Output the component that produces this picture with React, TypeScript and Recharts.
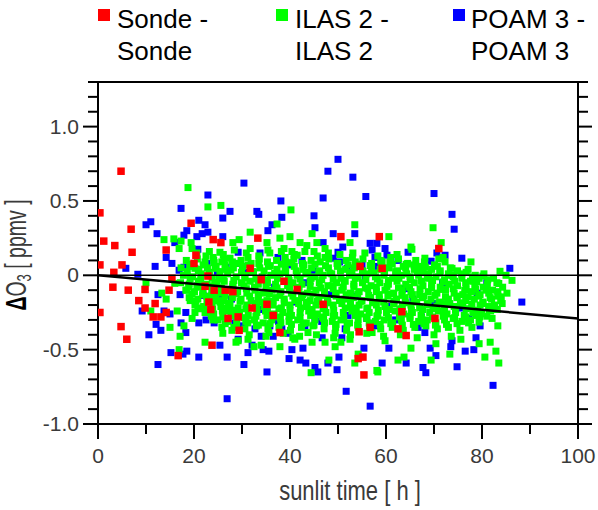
import {
  ScatterChart,
  Scatter,
  XAxis,
  YAxis,
} from "recharts";

type Pt = [number, number];

// sunlit time [h], delta O3 [ppmv]
const SONDE: Pt[] = [
  [4.8, 0.7], [0.4, 0.42], [1.2, 0.23], [3.5, 0.2], [6.9, 0.31], [7.1, 0.155], [5.0, 0.07], [3.3, 0.02],
  [0.4, 0.07], [19.4, 0.35], [14.2, 0.17], [24.0, 0.24], [25.6, 0.22], [20.0, 0.08], [20.4, 0.135],
  [22.9, -0.005], [15.4, -0.02], [3.1, -0.08], [6.3, -0.1], [9.8, -0.095], [8.5, -0.17], [11.9, -0.19],
  [9.8, -0.22], [11.5, -0.28], [13.1, -0.28], [14.2, -0.25], [14.8, -0.1], [0.4, -0.25], [4.8, -0.345],
  [6.0, -0.43], [16.7, -0.54], [23.75, -0.47], [22.3, -0.074], [24.2, -0.1], [23.1, -0.18], [23.5, -0.23],
  [27.1, -0.29], [26.5, -0.1], [28.1, -0.11], [33.3, 0.25], [50.6, 0.26], [54.6, 0.06], [31.7, 0.047],
  [58.6, 0.26], [34.0, -0.03], [38.75, -0.04], [41.5, -0.095], [32.1, -0.22], [35.2, -0.195], [29.2, -0.28],
  [36.5, -0.27], [46.9, -0.195], [29.4, -0.37], [37.9, -0.385], [54.4, -0.38], [56.7, -0.35], [55.2, -0.55],
  [54.2, -0.56], [55.4, -0.67], [71.0, 0.18], [59.2, 0.047], [63.3, -0.245], [70.2, -0.29], [62.5, -0.36],
  [64.2, -0.405],
];

const ILAS_OUTER: Pt[] = [
  [18.75, 0.59], [22.9, 0.46], [25.6, 0.47], [13.75, 0.24], [15.8, 0.245], [17.3, 0.23], [16.9, 0.18],
  [19.4, 0.22], [19.6, 0.18], [22.5, 0.13], [24.0, 0.12], [25.4, 0.155], [28.1, 0.22], [27.5, 0.115],
  [25.8, 0.09], [24.4, 0.047], [20.2, 0.047], [10.0, -0.05], [13.3, -0.12], [14.2, -0.16], [11.0, -0.24],
  [16.5, -0.24], [15.0, -0.35], [17.1, -0.41], [16.9, -0.5], [17.9, -0.34], [19.6, -0.29], [20.2, -0.25],
  [19.2, -0.17], [20.8, -0.22], [18.5, -0.1], [22.3, -0.45], [24.0, -0.3], [25.8, -0.35], [26.0, -0.39],
  [27.9, -0.37], [28.75, -0.45], [23.75, -0.135], [25.4, -0.18], [27.5, -0.19], [27.1, -0.24], [28.5, -0.26],
  [16.0, -0.054], [20.6, -0.07], [24.8, -0.05], [40.2, 0.44], [53.5, 0.34], [31.7, 0.29], [37.3, 0.345],
  [44.6, 0.28], [29.4, 0.24], [35.2, 0.22], [37.9, 0.25], [40.0, 0.26], [42.1, 0.22], [43.5, 0.2],
  [45.6, 0.22], [47.3, 0.18], [52.5, 0.22], [53.1, 0.15], [31.7, 0.18], [31.25, 0.12], [35.4, 0.17],
  [38.75, 0.18], [40.4, 0.16], [45.0, 0.16], [39.0, 0.12], [41.5, 0.135], [47.3, 0.12], [29.2, -0.44],
  [31.25, -0.43], [32.5, -0.48], [34.0, -0.47], [37.9, -0.48], [41.0, -0.43], [44.6, -0.45], [47.3, -0.45],
  [49.4, -0.48], [50.6, -0.45], [52.5, -0.43], [48.1, -0.57], [53.5, -0.59], [44.4, -0.655], [35.6, -0.385],
  [40.6, -0.42], [43.75, -0.385], [49.4, -0.39], [54.2, -0.53], [58.1, -0.64], [53.1, -0.22], [57.1, -0.385],
  [60.6, 0.26], [69.8, 0.32], [71.5, 0.22], [65.2, 0.19], [65.4, 0.175], [62.3, 0.14], [68.1, 0.115],
  [71.0, 0.11], [71.9, 0.12], [77.7, 0.09], [64.2, 0.074], [66.9, 0.06], [73.75, 0.047], [77.1, 0.04],
  [83.75, 0.027], [59.2, 0.09], [81.7, -0.45], [79.4, -0.46], [80.6, -0.55], [82.9, -0.51], [83.5, -0.59],
  [69.4, -0.57], [73.3, -0.53], [62.5, -0.57], [63.75, -0.55], [58.3, -0.65], [65.2, -0.49], [70.4, -0.46],
  [75.6, -0.43], [82.1, -0.29], [83.3, -0.34], [84.2, -0.19], [86.25, -0.034], [59.8, -0.44], [85.0, 0.0],
];

const ILAS_CORE: Pt[] = [
  [20.6, 0.15], [23.2, 0.16], [26.1, 0.14], [28.4, 0.17], [30.9, 0.15], [33.5, 0.13], [35.8, 0.15], [38.2, 0.16],
  [40.9, 0.14], [43.1, 0.16], [45.7, 0.13], [48.0, 0.15], [50.4, 0.14], [53.0, 0.12], [55.6, 0.15], [58.3, 0.13],
  [61.0, 0.12],
  [18.4, 0.1], [20.7, 0.11], [22.3, 0.09], [24.1, 0.1], [26.2, 0.11], [28.0, 0.09], [29.8, 0.1], [31.9, 0.08],
  [33.6, 0.11], [35.3, 0.09], [37.2, 0.1], [39.1, 0.09], [40.8, 0.11], [42.6, 0.08], [44.4, 0.1], [46.3, 0.09],
  [48.1, 0.11], [50.0, 0.08], [51.7, 0.1], [53.6, 0.09], [55.2, 0.11], [57.0, 0.08], [58.9, 0.1], [60.8, 0.09],
  [62.6, 0.11], [64.5, 0.08], [66.2, 0.1], [68.0, 0.09], [70.1, 0.07], [72.3, 0.09],
  [17.3, 0.05], [19.1, 0.06], [21.0, 0.04], [22.8, 0.05], [24.6, 0.06], [26.5, 0.04], [28.2, 0.05], [30.1, 0.06],
  [31.8, 0.03], [33.7, 0.05], [35.5, 0.06], [37.3, 0.04], [39.0, 0.05], [40.9, 0.06], [42.7, 0.04], [44.5, 0.05],
  [46.2, 0.03], [48.0, 0.05], [49.9, 0.06], [51.6, 0.04], [53.4, 0.05], [55.1, 0.03], [57.0, 0.05], [58.8, 0.04],
  [60.6, 0.05], [62.4, 0.03], [64.1, 0.05], [65.9, 0.04], [67.7, 0.02], [69.5, 0.04], [71.3, 0.03], [73.0, 0.01],
  [74.9, 0.03], [76.7, 0.02], [78.6, 0.0], [80.4, 0.01],
  [17.8, 0.0], [19.7, -0.01], [21.5, 0.01], [23.3, 0.0], [25.2, -0.02], [27.0, 0.01], [28.8, -0.01], [30.6, 0.0],
  [32.4, 0.02], [34.2, -0.01], [36.0, 0.0], [37.9, 0.01], [39.7, -0.02], [41.5, 0.0], [43.3, 0.01], [45.1, -0.01],
  [46.9, 0.0], [48.7, 0.01], [50.6, -0.02], [52.4, 0.0], [54.2, -0.01], [56.0, 0.01], [57.8, -0.01], [59.6, 0.0],
  [61.4, -0.02], [63.2, 0.0], [65.0, -0.01], [66.8, 0.0], [68.6, -0.02], [70.4, -0.01], [72.2, -0.03], [74.0, -0.01],
  [75.8, -0.02], [77.6, -0.04], [79.4, -0.02], [81.2, -0.03], [83.1, -0.05],
  [17.2, -0.05], [19.0, -0.06], [20.9, -0.04], [22.6, -0.06], [24.4, -0.05], [26.3, -0.04], [28.1, -0.06],
  [29.9, -0.05], [31.7, -0.04], [33.4, -0.06], [35.3, -0.05], [37.0, -0.06], [38.8, -0.04], [40.6, -0.05],
  [42.5, -0.06], [44.2, -0.04], [46.1, -0.05], [47.9, -0.07], [49.7, -0.05], [51.5, -0.04], [53.3, -0.06],
  [55.1, -0.05], [56.9, -0.07], [58.7, -0.05], [60.5, -0.06], [62.3, -0.04], [64.1, -0.06], [65.9, -0.05],
  [67.7, -0.07], [69.5, -0.06], [71.3, -0.08], [73.1, -0.06], [74.9, -0.07], [76.7, -0.09], [78.5, -0.07],
  [80.3, -0.08], [82.2, -0.1], [84.3, -0.08],
  [18.3, -0.1], [20.1, -0.11], [21.9, -0.09], [23.7, -0.1], [25.5, -0.12], [27.3, -0.1], [29.1, -0.11],
  [30.9, -0.09], [32.7, -0.1], [34.5, -0.12], [36.3, -0.1], [38.1, -0.11], [39.9, -0.09], [41.7, -0.1],
  [43.6, -0.12], [45.4, -0.1], [47.2, -0.11], [49.0, -0.09], [50.8, -0.1], [52.6, -0.12], [54.4, -0.11],
  [56.2, -0.09], [58.0, -0.11], [59.8, -0.1], [61.6, -0.12], [63.4, -0.1], [65.2, -0.11], [67.0, -0.13],
  [68.8, -0.11], [70.6, -0.12], [72.4, -0.1], [74.2, -0.12], [76.0, -0.13], [77.8, -0.11], [79.6, -0.13],
  [81.4, -0.12], [83.3, -0.14], [85.2, -0.12],
  [19.0, -0.15], [20.8, -0.16], [22.6, -0.14], [24.4, -0.15], [26.2, -0.17], [28.0, -0.15], [29.8, -0.16],
  [31.6, -0.14], [33.4, -0.15], [35.2, -0.17], [37.0, -0.15], [38.8, -0.16], [40.6, -0.14], [42.4, -0.15],
  [44.2, -0.17], [46.0, -0.15], [47.8, -0.16], [49.6, -0.14], [51.4, -0.16], [53.2, -0.15], [55.0, -0.17],
  [56.8, -0.15], [58.6, -0.16], [60.4, -0.14], [62.2, -0.16], [64.0, -0.15], [65.8, -0.17], [67.6, -0.15],
  [69.4, -0.16], [71.2, -0.18], [73.0, -0.16], [74.8, -0.15], [76.6, -0.17], [78.4, -0.16], [80.2, -0.18],
  [82.0, -0.16], [83.9, -0.17],
  [20.2, -0.2], [22.0, -0.21], [23.8, -0.19], [25.6, -0.21], [27.4, -0.2], [29.2, -0.22], [31.0, -0.2],
  [32.8, -0.19], [34.6, -0.21], [36.4, -0.2], [38.2, -0.22], [40.0, -0.2], [41.8, -0.19], [43.6, -0.21],
  [45.4, -0.2], [47.2, -0.22], [49.0, -0.2], [50.8, -0.19], [52.6, -0.21], [54.4, -0.2], [56.2, -0.22],
  [58.0, -0.2], [59.8, -0.21], [61.6, -0.19], [63.4, -0.21], [65.2, -0.2], [67.0, -0.22], [68.8, -0.2],
  [70.6, -0.21], [72.4, -0.19], [74.2, -0.21], [76.0, -0.2], [77.8, -0.22], [79.6, -0.2], [81.4, -0.21],
  [83.2, -0.23],
  [22.3, -0.25], [24.1, -0.26], [25.9, -0.24], [27.7, -0.26], [29.5, -0.25], [31.3, -0.27], [33.1, -0.25],
  [34.9, -0.24], [36.7, -0.26], [38.5, -0.25], [40.3, -0.27], [42.1, -0.25], [43.9, -0.24], [45.7, -0.26],
  [47.5, -0.25], [49.3, -0.27], [51.1, -0.25], [52.9, -0.24], [54.7, -0.26], [56.5, -0.25], [58.3, -0.27],
  [60.1, -0.25], [61.9, -0.24], [63.7, -0.26], [65.5, -0.25], [67.3, -0.27], [69.1, -0.25], [70.9, -0.24],
  [72.7, -0.26], [74.5, -0.25], [76.3, -0.27], [78.1, -0.25], [79.9, -0.26], [81.8, -0.24],
  [25.0, -0.3], [27.0, -0.31], [28.9, -0.29], [30.8, -0.31], [32.6, -0.3], [34.4, -0.32], [36.2, -0.3],
  [38.0, -0.29], [39.8, -0.31], [41.6, -0.3], [43.4, -0.32], [45.2, -0.3], [47.0, -0.29], [48.8, -0.31],
  [50.6, -0.3], [52.4, -0.32], [54.2, -0.3], [56.0, -0.29], [57.8, -0.31], [59.6, -0.3], [61.4, -0.32],
  [63.2, -0.3], [65.0, -0.29], [66.8, -0.31], [68.6, -0.3], [70.4, -0.32], [72.2, -0.3], [74.0, -0.29],
  [75.8, -0.31], [77.6, -0.3], [79.5, -0.28],
  [28.3, -0.35], [30.6, -0.36], [33.0, -0.34], [35.4, -0.36], [37.7, -0.35], [40.1, -0.37], [42.4, -0.35],
  [44.8, -0.34], [47.1, -0.36], [49.5, -0.35], [51.8, -0.37], [54.2, -0.35], [56.6, -0.34], [58.9, -0.36],
  [61.3, -0.35], [63.6, -0.37], [66.0, -0.35], [68.3, -0.34], [70.7, -0.36], [73.0, -0.35], [75.4, -0.37],
  [77.9, -0.35],
  [31.5, -0.4], [35.0, -0.41], [38.6, -0.39], [42.0, -0.41], [45.5, -0.4], [49.1, -0.42], [52.6, -0.4],
  [56.0, -0.39], [59.5, -0.41], [63.0, -0.4], [66.5, -0.42], [70.0, -0.4], [73.6, -0.41],
];

const ILAS_FILL: Pt[] = [
  [19.4, 0.075], [21.9, 0.07], [24.2, 0.085], [26.5, 0.07], [29.0, 0.08], [31.3, 0.07], [33.5, 0.08], [35.9, 0.065],
  [38.2, 0.075], [40.4, 0.085], [42.9, 0.07], [45.2, 0.075], [47.4, 0.065], [49.8, 0.08], [52.1, 0.07], [54.3, 0.075],
  [56.7, 0.065], [59.0, 0.07], [61.3, 0.075], [63.6, 0.06], [65.8, 0.07], [68.2, 0.055], [70.7, 0.06], [73.4, 0.05],
  [18.6, 0.025], [20.9, 0.03], [23.1, 0.02], [25.4, 0.025], [27.7, 0.035], [29.9, 0.02], [32.2, 0.025], [34.6, 0.03],
  [36.8, 0.015], [39.1, 0.025], [41.3, 0.03], [43.7, 0.02], [46.0, 0.025], [48.3, 0.015], [50.5, 0.03], [52.9, 0.02],
  [55.2, 0.025], [57.4, 0.015], [59.7, 0.02], [62.0, 0.025], [64.3, 0.01], [66.5, 0.02], [68.9, 0.01], [71.2, 0.015],
  [73.5, 0.0], [75.8, 0.01], [78.0, -0.01], [80.2, -0.005], [82.4, -0.02],
  [19.2, -0.025], [21.4, -0.03], [23.8, -0.02], [26.1, -0.025], [28.3, -0.035], [30.6, -0.02], [32.9, -0.025],
  [35.2, -0.03], [37.4, -0.02], [39.8, -0.035], [42.1, -0.025], [44.4, -0.02], [46.6, -0.03], [49.0, -0.025],
  [51.3, -0.035], [53.6, -0.02], [55.8, -0.03], [58.2, -0.025], [60.5, -0.035], [62.7, -0.02], [65.1, -0.03],
  [67.4, -0.04], [69.7, -0.035], [71.9, -0.045], [74.3, -0.04], [76.6, -0.05], [78.9, -0.045], [81.1, -0.06],
  [83.5, -0.055],
  [18.9, -0.075], [21.2, -0.08], [23.5, -0.07], [25.7, -0.085], [28.1, -0.075], [30.4, -0.07], [32.6, -0.08],
  [35.0, -0.075], [37.3, -0.085], [39.5, -0.07], [41.9, -0.08], [44.2, -0.075], [46.4, -0.085], [48.8, -0.07],
  [51.1, -0.08], [53.3, -0.075], [55.7, -0.085], [58.0, -0.08], [60.2, -0.075], [62.6, -0.085], [64.9, -0.08],
  [67.1, -0.09], [69.5, -0.085], [71.8, -0.095], [74.0, -0.09], [76.4, -0.1], [78.7, -0.095], [80.9, -0.1],
  [83.3, -0.11],
  [19.6, -0.125], [21.8, -0.13], [24.1, -0.12], [26.5, -0.135], [28.8, -0.125], [31.0, -0.12], [33.4, -0.13],
  [35.7, -0.125], [37.9, -0.135], [40.3, -0.12], [42.6, -0.13], [44.8, -0.125], [47.2, -0.135], [49.5, -0.12],
  [51.7, -0.13], [54.1, -0.125], [56.4, -0.135], [58.6, -0.13], [61.0, -0.125], [63.3, -0.135], [65.5, -0.13],
  [67.9, -0.14], [70.2, -0.135], [72.4, -0.145], [74.8, -0.14], [77.1, -0.145], [79.3, -0.14], [81.7, -0.15],
  [84.0, -0.145],
  [20.4, -0.175], [22.7, -0.18], [25.0, -0.17], [27.2, -0.185], [29.6, -0.175], [31.9, -0.17], [34.1, -0.18],
  [36.5, -0.175], [38.8, -0.185], [41.0, -0.17], [43.4, -0.18], [45.7, -0.175], [47.9, -0.185], [50.3, -0.17],
  [52.6, -0.18], [54.8, -0.175], [57.2, -0.185], [59.5, -0.18], [61.7, -0.175], [64.1, -0.185], [66.4, -0.18],
  [68.6, -0.19], [71.0, -0.185], [73.3, -0.19], [75.5, -0.185], [77.9, -0.195], [80.2, -0.19], [82.6, -0.2],
  [21.5, -0.225], [23.9, -0.23], [26.2, -0.22], [28.4, -0.235], [30.8, -0.225], [33.1, -0.22], [35.3, -0.23],
  [37.7, -0.225], [40.0, -0.235], [42.2, -0.22], [44.6, -0.23], [46.9, -0.225], [49.1, -0.235], [51.5, -0.22],
  [53.8, -0.23], [56.0, -0.225], [58.4, -0.235], [60.7, -0.23], [62.9, -0.225], [65.3, -0.235], [67.6, -0.23],
  [69.8, -0.225], [72.2, -0.235], [74.5, -0.23], [76.7, -0.225], [79.1, -0.235], [81.5, -0.23],
  [23.6, -0.275], [26.0, -0.28], [28.3, -0.27], [30.5, -0.285], [32.9, -0.275], [35.2, -0.27], [37.4, -0.28],
  [39.8, -0.275], [42.1, -0.285], [44.3, -0.27], [46.7, -0.28], [49.0, -0.275], [51.2, -0.285], [53.6, -0.27],
  [55.9, -0.28], [58.1, -0.275], [60.5, -0.285], [62.8, -0.28], [65.0, -0.275], [67.4, -0.285], [69.7, -0.28],
  [71.9, -0.275], [74.3, -0.285], [76.6, -0.28], [78.8, -0.27], [81.0, -0.275],
  [26.5, -0.325], [28.9, -0.33], [31.2, -0.32], [33.4, -0.335], [35.8, -0.325], [38.1, -0.32], [40.3, -0.33],
  [42.7, -0.325], [45.0, -0.335], [47.2, -0.32], [49.6, -0.33], [51.9, -0.325], [54.1, -0.335], [56.5, -0.32],
  [58.8, -0.33], [61.0, -0.325], [63.4, -0.335], [65.7, -0.33], [67.9, -0.325], [70.3, -0.335], [72.6, -0.33],
  [74.8, -0.325], [77.2, -0.32], [79.4, -0.315],
];

const POAM_OUTER: Pt[] = [
  [22.9, 0.54], [17.3, 0.45], [27.5, 0.43], [26.0, 0.385], [21.0, 0.37], [22.3, 0.34], [11.0, 0.36], [10.0, 0.34],
  [12.3, 0.28], [18.5, 0.3], [17.9, 0.27], [20.6, 0.26], [21.7, 0.28], [22.9, 0.29], [26.0, 0.26], [16.0, 0.22],
  [20.8, 0.175], [14.2, 0.12], [15.4, 0.08], [11.9, 0.06], [5.8, 0.047], [8.3, 0.007], [17.9, 0.054],
  [16.9, 0.034], [22.7, 0.08], [26.7, 0.054], [29.2, 0.155], [9.2, -0.24], [12.1, -0.33], [13.1, -0.37],
  [10.6, -0.4], [12.5, -0.6], [15.2, -0.52], [17.7, -0.53], [18.5, -0.51], [21.0, -0.55], [25.4, -0.47],
  [26.9, -0.55], [26.9, -0.83], [17.1, -0.13], [12.5, -0.13], [13.75, -0.24], [15.0, -0.26], [18.3, -0.25],
  [17.3, -0.32], [21.0, -0.32], [22.5, -0.3], [24.2, -0.32], [18.3, -0.385], [21.9, -0.135], [25.8, -0.15],
  [28.5, -0.32], [50.0, 0.78], [47.9, 0.7], [53.1, 0.66], [30.4, 0.62], [46.9, 0.52], [55.8, 0.53], [38.1, 0.5],
  [33.1, 0.43], [33.5, 0.41], [38.3, 0.39], [45.0, 0.4], [36.25, 0.34], [35.4, 0.3], [45.2, 0.32], [49.0, 0.28],
  [53.5, 0.28], [46.9, 0.22], [51.0, 0.19], [50.0, 0.155], [56.7, 0.215], [57.1, 0.17], [57.7, 0.12],
  [33.75, 0.15], [37.5, 0.12], [49.0, 0.115], [51.9, 0.047], [55.0, 0.068], [42.5, 0.1], [30.4, -0.6],
  [35.2, -0.65], [31.25, -0.52], [35.6, -0.51], [34.4, -0.5], [39.8, -0.56], [42.1, -0.57], [43.3, -0.59],
  [45.2, -0.62], [45.8, -0.65], [47.9, -0.59], [49.8, -0.635], [50.2, -0.55], [51.7, -0.78], [56.7, -0.88],
  [55.4, -0.49], [42.7, -0.49], [40.4, -0.5], [29.2, -0.43], [32.1, -0.47], [34.0, -0.41], [36.5, -0.41],
  [39.6, -0.39], [35.8, -0.34], [38.3, -0.36], [43.1, -0.34], [46.7, -0.42], [50.8, -0.42], [51.5, -0.36],
  [45.2, -0.29], [56.0, -0.29], [57.7, -0.34], [32.7, -0.36], [30.0, -0.34], [70.0, 0.55], [73.75, 0.41],
  [74.2, 0.31], [58.1, 0.215], [59.8, 0.18], [60.2, 0.135], [64.6, 0.155], [69.4, 0.095], [70.6, 0.15],
  [72.3, 0.135], [75.8, 0.115], [85.8, 0.047], [62.5, 0.1], [60.6, -0.49], [59.2, -0.59], [64.2, -0.59],
  [67.7, -0.62], [68.3, -0.655], [70.4, -0.54], [69.2, -0.49], [73.5, -0.48], [76.5, -0.51], [78.3, -0.5],
  [78.75, -0.42], [74.8, -0.615], [82.3, -0.74], [88.3, -0.18], [66.7, -0.35], [68.1, -0.385], [73.75, -0.44],
  [79.6, -0.34],
];

const POAM_CORE: Pt[] = [
  [31.0, 0.02], [36.8, -0.08], [41.2, -0.18], [44.9, 0.03], [48.4, -0.13], [52.1, -0.27], [55.7, -0.02],
  [60.2, -0.21], [63.9, -0.09], [67.4, -0.28], [71.8, -0.05], [75.3, -0.22], [79.0, -0.12], [33.9, -0.23],
  [39.5, 0.07], [46.6, -0.31], [58.4, 0.06], [65.6, -0.16], [73.9, 0.0], [27.8, -0.16], [24.9, 0.02],
  [42.9, -0.05], [50.3, 0.09], [62.0, -0.3], [69.9, -0.19], [77.3, -0.29], [81.0, -0.05], [53.8, -0.14],
  [37.6, -0.31], [29.4, 0.08],
];

// zero line and linear fit drawn over the points
const ZERO_LINE = [{ x: 0, y: 0 }, { x: 100, y: 0 }];
const FIT_LINE = [{ x: 0, y: 0.0 }, { x: 100, y: -0.29 }];

const X_TICKS = [0, 10, 20, 30, 40, 50, 60, 70, 80, 90, 100];
const Y_TICKS = [-1.0, -0.9, -0.8, -0.7, -0.6, -0.5, -0.4, -0.3, -0.2, -0.1, 0, 0.1, 0.2, 0.3, 0.4, 0.5, 0.6, 0.7, 0.8, 0.9, 1.0, 1.1, 1.2, 1.3];

const FONT = "'Liberation Sans', Arial, sans-serif";
const LABEL = "#3a3a3a";

const toRows = (pts: Pt[]) => pts.map(([x, y]) => ({ x, y }));

const square = (color: string, size: number) => (props: any) => {
  const { cx, cy } = props;
  if (cx == null || cy == null) return <g />;
  return <rect x={cx - size / 2} y={cy - size / 2} width={size} height={size} fill={color} />;
};
const noDot = () => <g />;

const isMajorY = (v: number) => Math.abs(v * 2 - Math.round(v * 2)) < 1e-6;
const fmtY = (v: number) => (Math.abs(v) < 1e-9 ? "0" : v.toFixed(1));

function BottomTick({ x, y, payload }: any) {
  const major = payload.value % 20 === 0;
  return (
    <g>
      <line x1={x} y1={y} x2={x} y2={y + (major ? 15 : 10)} stroke="#000" strokeWidth={2} />
      {major && (
        <text x={x} y={y + 39} textAnchor="middle" fontSize={21} fontFamily={FONT} fill={LABEL}>
          {payload.value}
        </text>
      )}
    </g>
  );
}

function TopTick({ x, y, payload }: any) {
  const major = payload.value % 20 === 0;
  return <line x1={x} y1={y} x2={x} y2={y - (major ? 15 : 11)} stroke="#000" strokeWidth={2} />;
}

function LeftTick({ x, y, payload }: any) {
  const major = isMajorY(payload.value);
  return (
    <g>
      <line x1={x} y1={y} x2={x - (major ? 15 : 10)} y2={y} stroke="#000" strokeWidth={2} />
      {major && (
        <text x={x - 19} y={y + 7} textAnchor="end" fontSize={21} fontFamily={FONT} fill={LABEL}>
          {fmtY(payload.value)}
        </text>
      )}
    </g>
  );
}

function RightTick({ x, y, payload }: any) {
  const major = isMajorY(payload.value);
  return <line x1={x} y1={y} x2={x + (major ? 14 : 10)} y2={y} stroke="#000" strokeWidth={2} />;
}

export default function App() {
  const axisLine = { stroke: "#000", strokeWidth: 2 };
  return (
    <div style={{ position: "absolute", left: 0, top: 0, width: 598, height: 510, background: "#fff", fontFamily: FONT }}>
      <ScatterChart width={598} height={510} margin={{ top: 70, right: 0, bottom: 0, left: 0 }}>
        <XAxis
          xAxisId="b"
          dataKey="x"
          type="number"
          domain={[0, 100]}
          ticks={X_TICKS}
          interval={0}
          allowDataOverflow
          height={86}
          tickSize={0}
          tickMargin={0}
          tickLine={false}
          axisLine={axisLine}
          tick={BottomTick}
        />
        <XAxis
          xAxisId="t"
          orientation="top"
          type="number"
          domain={[0, 100]}
          ticks={X_TICKS}
          interval={0}
          allowDataOverflow
          height={12}
          tickSize={0}
          tickMargin={0}
          tickLine={false}
          axisLine={axisLine}
          tick={TopTick}
        />
        <YAxis
          yAxisId="l"
          dataKey="y"
          type="number"
          domain={[-1, 1.3]}
          ticks={Y_TICKS}
          interval={0}
          allowDataOverflow
          width={98}
          tickSize={0}
          tickMargin={0}
          tickLine={false}
          axisLine={axisLine}
          tick={LeftTick}
        />
        <YAxis
          yAxisId="r"
          orientation="right"
          type="number"
          domain={[-1, 1.3]}
          ticks={Y_TICKS}
          interval={0}
          allowDataOverflow
          width={20}
          tickSize={0}
          tickMargin={0}
          tickLine={false}
          axisLine={axisLine}
          tick={RightTick}
        />
        <Scatter
          xAxisId="b"
          yAxisId="l"
          data={toRows([...POAM_OUTER, ...POAM_CORE])}
          shape={square("#0000ff", 7)}
          isAnimationActive={false}
        />
        <Scatter
          xAxisId="b"
          yAxisId="l"
          data={toRows([...ILAS_OUTER, ...ILAS_CORE, ...ILAS_FILL])}
          shape={square("#00ff00", 7)}
          isAnimationActive={false}
        />
        <Scatter
          xAxisId="b"
          yAxisId="l"
          data={toRows(SONDE)}
          shape={square("#ff0000", 7.5)}
          isAnimationActive={false}
        />
        <Scatter
          xAxisId="b"
          yAxisId="l"
          data={ZERO_LINE}
          line={{ stroke: "#000", strokeWidth: 1.5 }}
          shape={noDot}
          isAnimationActive={false}
        />
        <Scatter
          xAxisId="b"
          yAxisId="l"
          data={FIT_LINE}
          line={{ stroke: "#000", strokeWidth: 2.5 }}
          shape={noDot}
          isAnimationActive={false}
        />
      </ScatterChart>

      <svg width={598} height={510} style={{ position: "absolute", left: 0, top: 0, pointerEvents: "none" }}>
        <g fontFamily={FONT} fontSize={26} fill="#000">
          <rect x={98} y={9} width={12} height={12} fill="#ff0000" />
          <text x={117} y={28}>Sonde -</text>
          <text x={117} y={60}>Sonde</text>
          <rect x={276} y={9} width={12} height={12} fill="#00ff00" />
          <text x={295} y={28}>ILAS 2 -</text>
          <text x={295} y={60}>ILAS 2</text>
          <rect x={453} y={9} width={12} height={12} fill="#0000ff" />
          <text x={471} y={28}>POAM 3 -</text>
          <text x={471} y={60}>POAM 3</text>
        </g>
        <text
          transform="translate(350,500) scale(1,1.27)"
          textAnchor="middle"
          fontFamily={FONT}
          fontSize={22}
          fill={LABEL}
        >
          sunlit time [ h ]
        </text>
        <text
          transform="translate(26,255) rotate(-90) scale(1,1.5)"
          textAnchor="middle"
          fontFamily={FONT}
          fontSize={19.5}
          fill={LABEL}
        >
          <tspan fontWeight="bold" fill="#000">Δ</tspan>
          <tspan>O</tspan>
          <tspan fontSize={13} dy={3}>3</tspan>
          <tspan dy={-3}> [ ppmv ]</tspan>
        </text>
      </svg>
    </div>
  );
}
